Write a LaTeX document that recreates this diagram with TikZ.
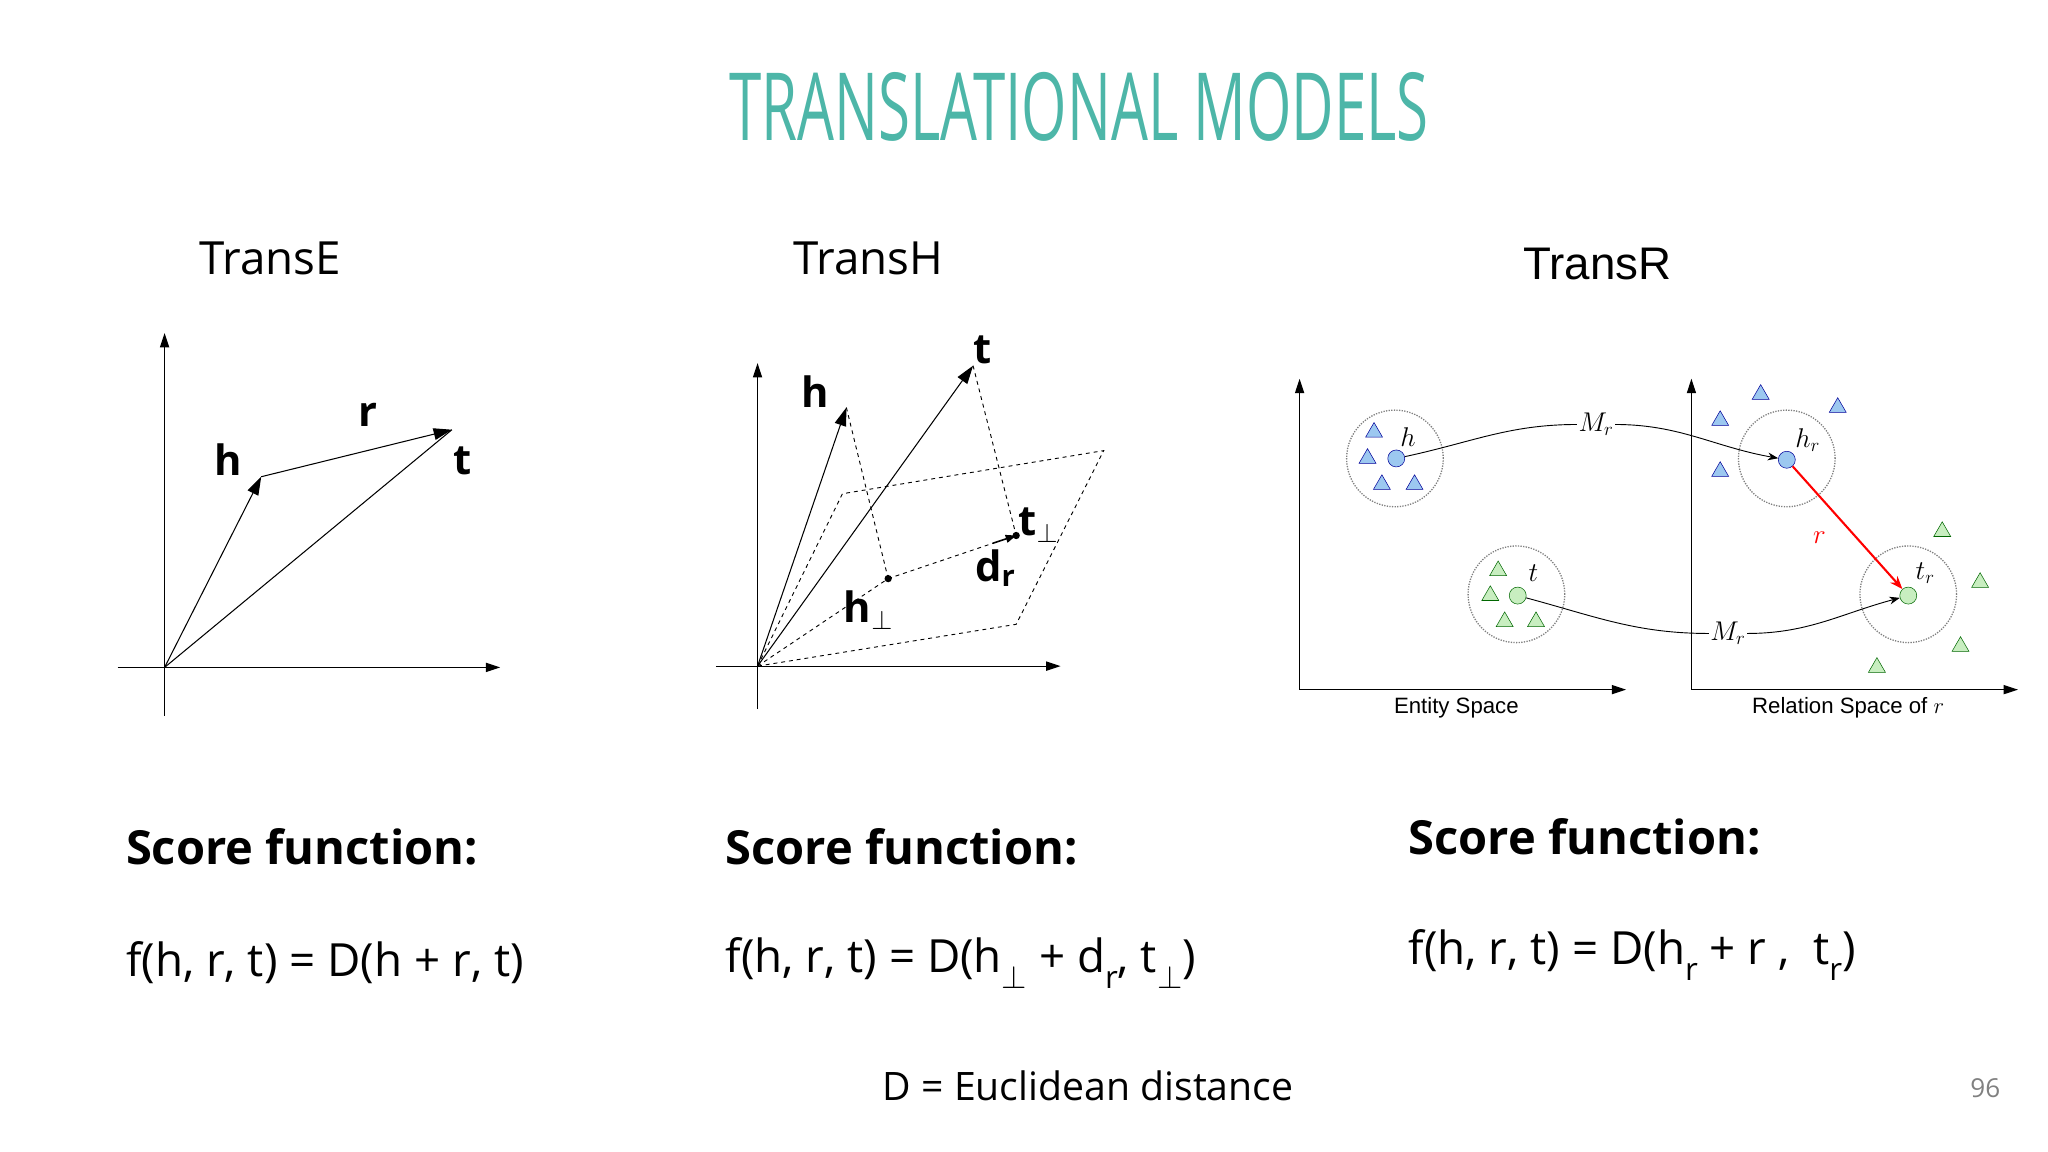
\documentclass[tikz,border=0pt]{standalone}
\usepackage{fontspec}
\setmainfont{Open Sans}
\newfontfamily\arial{Liberation Sans}
\usetikzlibrary{arrows.meta,shapes.geometric}
\definecolor{teal1}{HTML}{4DB6A8}
\definecolor{bluef}{HTML}{9CC8F0}
\definecolor{greenf}{HTML}{C8EEC0}
\tikzset{
  ax/.style={line width=0.9pt,-{Triangle[length=11pt,width=7pt]}},
  vec/.style={line width=0.8pt,-{Triangle[length=14pt,width=9pt]}},
  sv/.style={font=\fontsize{32}{34}\selectfont\bfseries\rmfamily},
  dsh/.style={dashed,line width=0.7pt},
  cir/.style={draw=gray,densely dotted,line width=1pt,circle,minimum size=74pt,inner sep=0pt},
  bdot/.style={circle,draw=blue!60!black,fill=bluef,minimum size=13pt,inner sep=0pt},
  gdot/.style={circle,draw=green!40!black,fill=greenf,minimum size=13pt,inner sep=0pt},
  btri/.style={regular polygon,regular polygon sides=3,draw=blue!60!black,fill=bluef,minimum size=15pt,inner sep=0pt},
  gtri/.style={regular polygon,regular polygon sides=3,draw=green!40!black,fill=greenf,minimum size=15pt,inner sep=0pt},
  rl/.style={font=\fontsize{22}{24}\selectfont\rmfamily},
  axcap/.style={font=\arial\fontsize{17}{19}\selectfont},
  score/.style={font=\fontsize{36}{40}\selectfont\bfseries,anchor=west},
  form/.style={font=\fontsize{35}{40}\selectfont,anchor=west}
}
\newcommand{\mysub}[1]{\raisebox{-0.35em}{\fontsize{24}{24}\selectfont #1}}
\begin{document}
\begin{tikzpicture}[x=1pt,y=-1pt]
\useasboundingbox (0,0) rectangle (1568,882);
\node[text=teal1,font=\fontsize{72}{72}\selectfont,xscale=0.62] (title) at (826,82) {TRANSLATIONAL MODELS};
\node[font=\fontsize{35}{38}\selectfont] (te) at (207,198) {TransE};
\node[font=\fontsize{35}{38}\selectfont] (th) at (665,198) {TransH};
\node[font=\arial\fontsize{35}{38}\selectfont] (tr) at (1223,202) {TransR};
% TransE
\coordinate (o1) at (126,511);
\coordinate (ey) at (126,255); \coordinate (ey0) at (126,548);
\coordinate (ex) at (383,511); \coordinate (ex0) at (90,511);
\draw[ax] (ey0) -- (ey); \draw[ax] (ex0) -- (ex);
\coordinate (eh) at (200,365); \coordinate (et) at (346,329);
\draw[vec] (o1) -- (eh); \draw[vec] (eh) -- (et); \draw[line width=0.8pt] (o1) -- (et);
\node[sv] (lh) at (175,352) {h};
\node[sv] (lr) at (282,318) {r};
\node[sv] (lt) at (354,353) {t};
% TransH
\coordinate (o2) at (580,510);
\coordinate (hy0) at (580,543); \coordinate (hy) at (580,278);
\coordinate (hx0) at (548,510); \coordinate (hx) at (812,510);
\draw[ax] (hy0) -- (hy); \draw[ax] (hx0) -- (hx);
\coordinate (p1) at (645,378); \coordinate (p2) at (845,345); \coordinate (p3) at (778,478);
\draw[dsh] (o2) -- (p1) -- (p2) -- (p3) -- (o2);
\coordinate (hh) at (648,312); \coordinate (ht) at (745,280);
\coordinate (hp) at (680,443); \coordinate (tp) at (778,410);
\draw[vec] (o2) -- (hh); \draw[vec] (o2) -- (ht);
\draw[dsh] (hh) -- (hp); \draw[dsh] (ht) -- (tp);
\draw[dsh] (o2) -- (hp); \draw[dsh] (hp) -- (760,416);
\draw[line width=1.2pt,-{Triangle[length=8pt,width=6pt]}] (760,416) -- (tp);
\fill (hp) circle (2.8pt); \fill (tp) circle (2.8pt);
\node[sv] (hl) at (624,300) {h};
\node[sv] (tl) at (752,268) {t};
\node[sv] (tpl) at (795,402) {t$_\perp$};
\node[sv] (drl) at (762,435) {d$_{\mathbf r}$};
\node[sv] (hpl) at (665,467) {h$_\perp$};
% TransR
\coordinate (r1o) at (995,528);
\draw[ax] (r1o) -- (995,290); \draw[ax] (r1o) -- (1245,528);
\coordinate (r2o) at (1295,528);
\draw[ax] (r2o) -- (1295,290); \draw[ax] (r2o) -- (1545,528);
\node[axcap] (es) at (1115,542) {Entity Space};
\node[axcap] (rs) at (1415,542) {Relation Space of $r$};
\node[cir] (c1) at (1068,351) {};
\node[cir] (c2) at (1161,455) {};
\node[cir] (c3) at (1368,351) {};
\node[cir] (c4) at (1461,455) {};
\foreach \p in {(1052,331),(1047,351),(1058,371),(1083,371),(1348,302),(1317,322),(1407,312),(1317,361)} \node[btri] at \p {};
\foreach \p in {(1147,437),(1141,456),(1152,476),(1176,476),(1487,407),(1516,446),(1501,495),(1437,511)} \node[gtri] at \p {};
\node[bdot] (hd) at (1069,351) {};
\node[gdot] (td) at (1162,456) {};
\node[bdot] (hrd) at (1368,352) {};
\node[gdot] (trd) at (1461,456) {};
\node[rl] (hlab) at (1078,335) {$h$};
\node[rl] (tlab) at (1174,439) {$t$};
\node[rl] (hrlab) at (1384,337) {$h_r$};
\node[rl] (trlab) at (1474,439) {$t_r$};
\node[rl,fill=white,inner sep=1pt] (m1) at (1222,325) {$M_r$};
\node[rl,fill=white,inner sep=1pt] (m2) at (1323,485) {$M_r$};
\draw[line width=0.7pt] (hd) to[out=12,in=180] (m1);
\draw[line width=0.7pt,-{Stealth[length=8pt]}] (m1) to[out=0,in=170] (hrd);
\draw[line width=0.7pt] (td) to[out=-15,in=180] (m2);
\draw[line width=0.7pt,-{Stealth[length=8pt]}] (m2) to[out=0,in=195] (trd);
\draw[red,line width=1.6pt,-{Stealth[length=10pt]}] (hrd) -- (trd);
\node[rl,text=red] (rr) at (1393,412) {$r$};
% text
\node[score] (s1) at (93,648) {Score function:};
\node[score] (s2) at (552,648) {Score function:};
\node[score] (s3) at (1075,641) {Score function:};
\node[form] (f1) at (93,737) {f(h, r, t) = D(h + r, t)};
\node[form] (f2) at (552,737) {f(h, r, t) = D(h\mysub{$\perp$} + d\mysub{r}, t\mysub{$\perp$})};
\node[form] (f3) at (1075,731) {f(h, r, t) = D(h\mysub{r} + r ,\ \ t\mysub{r})};
\node[font=\fontsize{30}{32}\selectfont] (dd) at (833,831) {D = Euclidean distance};
\node[font=\fontsize{20}{22}\selectfont,text=gray] (pg) at (1520,833) {96};
\end{tikzpicture}
\end{document}
